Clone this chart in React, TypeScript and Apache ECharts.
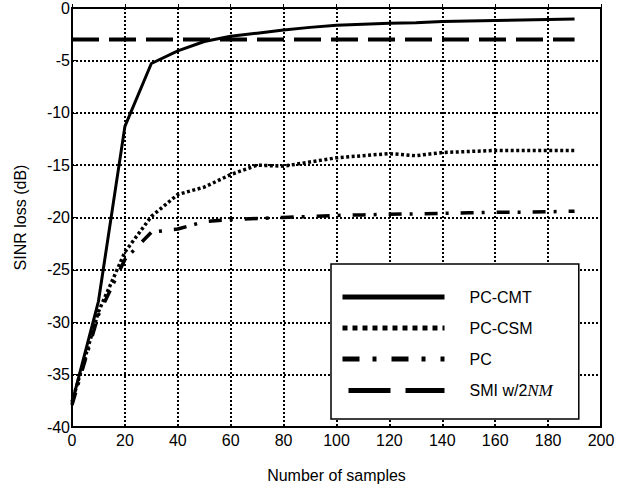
import React, { useEffect, useRef } from "react";
import * as echarts from "echarts";

const samples = [0, 10, 20, 30, 40, 50, 60, 70, 80, 90, 100, 110, 120, 130, 140, 150, 160, 170, 180, 190];
const pcCmt = [-37.7, -28, -11.3, -5.3, -4.1, -3.2, -2.7, -2.4, -2.1, -1.85, -1.65, -1.55, -1.45, -1.4, -1.3, -1.25, -1.2, -1.15, -1.1, -1.05];
const pcCsm = [-37.6, -29.0, -23.3, -19.9, -17.8, -17.1, -15.9, -15.0, -15.1, -14.7, -14.3, -14.1, -13.9, -14.1, -13.8, -13.7, -13.6, -13.6, -13.6, -13.6];
const pc = [-37.9, -29.3, -24.0, -21.4, -21.1, -20.4, -20.2, -20.1, -20.0, -19.9, -19.8, -19.75, -19.7, -19.65, -19.6, -19.55, -19.5, -19.5, -19.45, -19.4];
const smi = [-3, -3, -3, -3, -3, -3, -3, -3, -3, -3, -3, -3, -3, -3, -3, -3, -3, -3, -3, -3];

const seriesNames = ["PC-CMT", "PC-CSM", "PC", "SMI w/2NM"];
const xTicks = { min: 0, max: 200, interval: 20 };
const yTicks = { min: -40, max: 0, interval: 5 };

const FONT = "Liberation Sans";

export default function App() {
  const ref = useRef<HTMLDivElement>(null);
  useEffect(() => {
    if (!ref.current) return;
    const chart = echarts.init(ref.current, undefined, { renderer: "svg" });
    const pair = (ys: number[]) => samples.map((x, i) => [x, ys[i]]);
    const mk = (name: string, ys: number[], width: number, type: any, z: number) => ({
      name,
      type: "line",
      data: pair(ys),
      showSymbol: false,
      symbol: "none",
      z,
      lineStyle: { color: "#000", width, type, cap: "butt" },
      itemStyle: { color: "#000" },
    });
    const legendStyles: any[] = [
      { width: 5, type: "solid" },
      { width: 5, type: [5, 5] },
      { width: 5, type: [17, 13, 4, 15] },
      { width: 5, type: [42, 15], dashOffset: -6 },
    ];
    chart.setOption({
      animation: false,
      backgroundColor: "#fff",
      grid: {
        left: 72,
        top: 5,
        right: 27,
        bottom: 61,
        show: true,
        borderColor: "#000",
        borderWidth: 2,
        backgroundColor: "transparent",
      },
      xAxis: {
        type: "value",
        min: xTicks.min,
        max: xTicks.max,
        interval: xTicks.interval,
        name: "Number of samples",
        nameLocation: "middle",
        nameGap: 40,
        nameTextStyle: { fontFamily: FONT, fontSize: 16, color: "#000" },
        axisLine: { show: true, lineStyle: { color: "#000", width: 2 } },
        axisTick: { show: true, inside: true, length: 4, lineStyle: { color: "#000" } },
        axisLabel: { fontFamily: FONT, fontSize: 16, color: "#000", margin: 5 },
        splitLine: { show: true, lineStyle: { color: "#000", width: 2, type: [2, 2] } },
      },
      yAxis: {
        type: "value",
        min: yTicks.min,
        max: yTicks.max,
        interval: yTicks.interval,
        name: "SINR loss (dB)",
        nameLocation: "middle",
        nameGap: 44,
        nameTextStyle: { fontFamily: FONT, fontSize: 16, color: "#000" },
        axisLine: { show: true, lineStyle: { color: "#000", width: 2 } },
        axisTick: { show: true, inside: true, length: 4, lineStyle: { color: "#000" } },
        axisLabel: { fontFamily: FONT, fontSize: 16, color: "#000", margin: 2 },
        splitLine: { show: true, lineStyle: { color: "#000", width: 2, type: [2, 2] } },
      },
      legend: {
        data: seriesNames.map((name, i) => ({ name, lineStyle: { color: "#000", ...legendStyles[i] } })),
        orient: "vertical",
        left: 331,
        top: 264,
        itemWidth: 102,
        itemHeight: 14,
        itemGap: 15,
        padding: [25, 26, 20, 9],
        borderColor: "#000",
        borderWidth: 1.5,
        backgroundColor: "#fff",
        selectedMode: false,
        itemStyle: { opacity: 0 },
        formatter: (name: string) => (name === "SMI w/2NM" ? "{a|SMI w/2}{b|NM}" : "{a|" + name + "}"),
        textStyle: {
          color: "#000",
          fontFamily: FONT,
          fontSize: 16,
          rich: {
            a: { fontFamily: FONT, fontSize: 16, color: "#000", padding: [0, 0, 0, 20] },
            b: { fontFamily: "Liberation Serif", fontStyle: "italic", fontSize: 17, color: "#000" },
          },
        },
      },
      series: [
        mk(seriesNames[0], pcCmt, 3, "solid", 5),
        mk(seriesNames[1], pcCsm, 3.5, [3, 2.5], 4),
        mk(seriesNames[2], pc, 3.5, [13, 8, 3, 12], 3),
        mk(seriesNames[3], smi, 4, [27, 10], 2),
      ],
    });
    return () => chart.dispose();
  }, []);
  return <div ref={ref} style={{ width: 628, height: 488, position: "absolute", left: 0, top: 0 }} />;
}
